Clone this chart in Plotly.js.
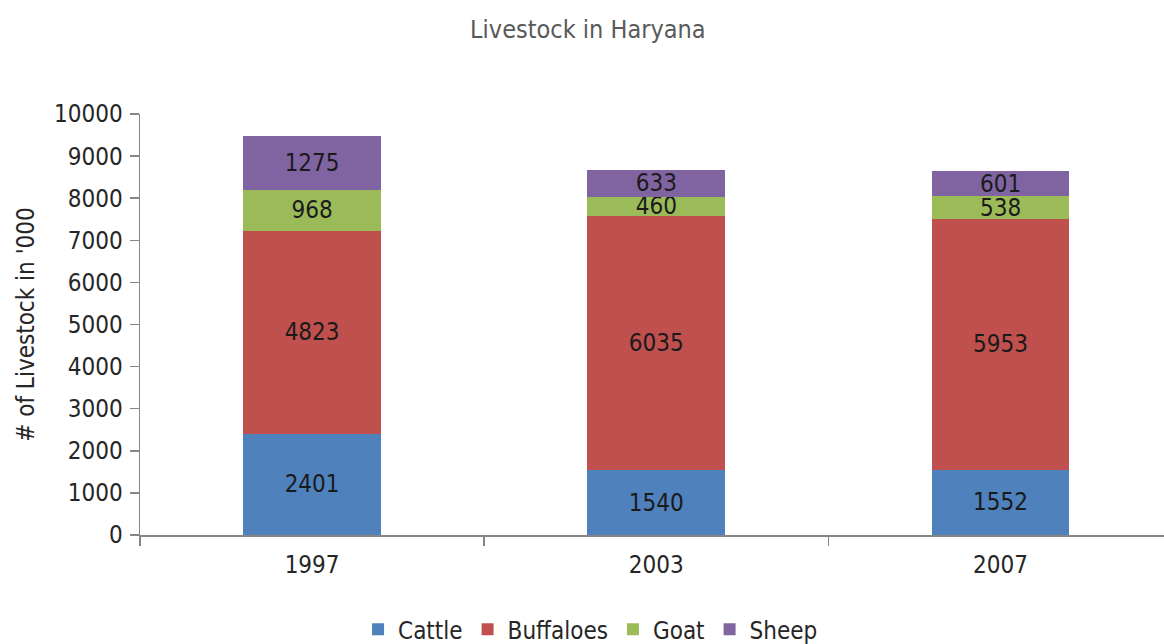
<!DOCTYPE html>
<html>
<head>
<meta charset="utf-8">
<script src="https://cdn.plot.ly/plotly-3.0.1.min.js"></script>
<style>
html,body{margin:0;padding:0;background:#fff;}
#chart{width:1164px;height:644px;}
</style>
</head>
<body>
<div id="chart"></div>
<script>
var years = ['1997', '2003', '2007'];
var cattle = [2401, 1540, 1552];
var buffaloes = [4823, 6035, 5953];
var goat = [968, 460, 538];
var sheep = [1275, 633, 601];
var seriesNames = ['Cattle', 'Buffaloes', 'Goat', 'Sheep'];
var seriesColors = ['#4F81BD', '#C0504D', '#9BBB59', '#8064A2'];
var yTicks = [0, 1000, 2000, 3000, 4000, 5000, 6000, 7000, 8000, 9000, 10000];

var FONT = '"Liberation Sans Narrow", "Arial Narrow", "DejaVu Sans Condensed", sans-serif';
var seriesValues = [cattle, buffaloes, goat, sheep];

var traces = seriesValues.map(function (vals, i) {
  return {
    type: 'bar',
    name: seriesNames[i],
    x: years,
    y: vals,
    text: vals.map(String),
    textposition: 'inside',
    insidetextanchor: 'middle',
    constraintext: 'none',
    textfont: {family: FONT, size: 24, color: '#1a1a1a'},
    marker: {color: seriesColors[i], line: {width: 0}},
    hoverinfo: 'x+y+name'
  };
});

var layout = {
  width: 1164,
  height: 644,
  barmode: 'stack',
  bargap: 0.6,
  paper_bgcolor: '#ffffff',
  plot_bgcolor: '#ffffff',
  margin: {l: 140, r: 0, t: 114, b: 109, autoexpand: false},
  font: {family: FONT, color: '#262626'},
  title: {
    text: 'Livestock in Haryana',
    font: {family: FONT, size: 25, color: '#595959'},
    x: 0.505, xanchor: 'center',
    y: 0.955, yanchor: 'middle'
  },
  xaxis: {
    type: 'category',
    range: [-0.5, 2.475],
    tickson: 'boundaries',
    ticks: 'outside',
    ticklen: 9,
    tickwidth: 1.5,
    tickcolor: '#868686',
    showline: true,
    linecolor: '#868686',
    linewidth: 1.5,
    showgrid: false,
    zeroline: false,
    tickfont: {family: FONT, size: 24, color: '#262626'},
    ticklabelstandoff: 8
  },
  yaxis: {
    range: [0, 10000],
    tickvals: yTicks,
    ticktext: yTicks.map(String),
    ticks: 'outside',
    ticklen: 9,
    tickwidth: 1.5,
    tickcolor: '#868686',
    showline: true,
    linecolor: '#868686',
    linewidth: 1.5,
    showgrid: false,
    zeroline: false,
    tickfont: {family: FONT, size: 24, color: '#262626'},
    ticklabelstandoff: 2,
    title: {
      text: "# of Livestock in '000",
      font: {family: FONT, size: 24, color: '#262626'},
      standoff: 12
    }
  },
  legend: {
    orientation: 'h',
    x: 0.44, xanchor: 'center',
    y: -0.225, yanchor: 'middle',
    font: {family: FONT, size: 24, color: '#262626'},
    itemwidth: 30,
    traceorder: 'normal'
  },
  showlegend: true
};

Plotly.newPlot('chart', traces, layout, {displayModeBar: false, staticPlot: true});
</script>
</body>
</html>
